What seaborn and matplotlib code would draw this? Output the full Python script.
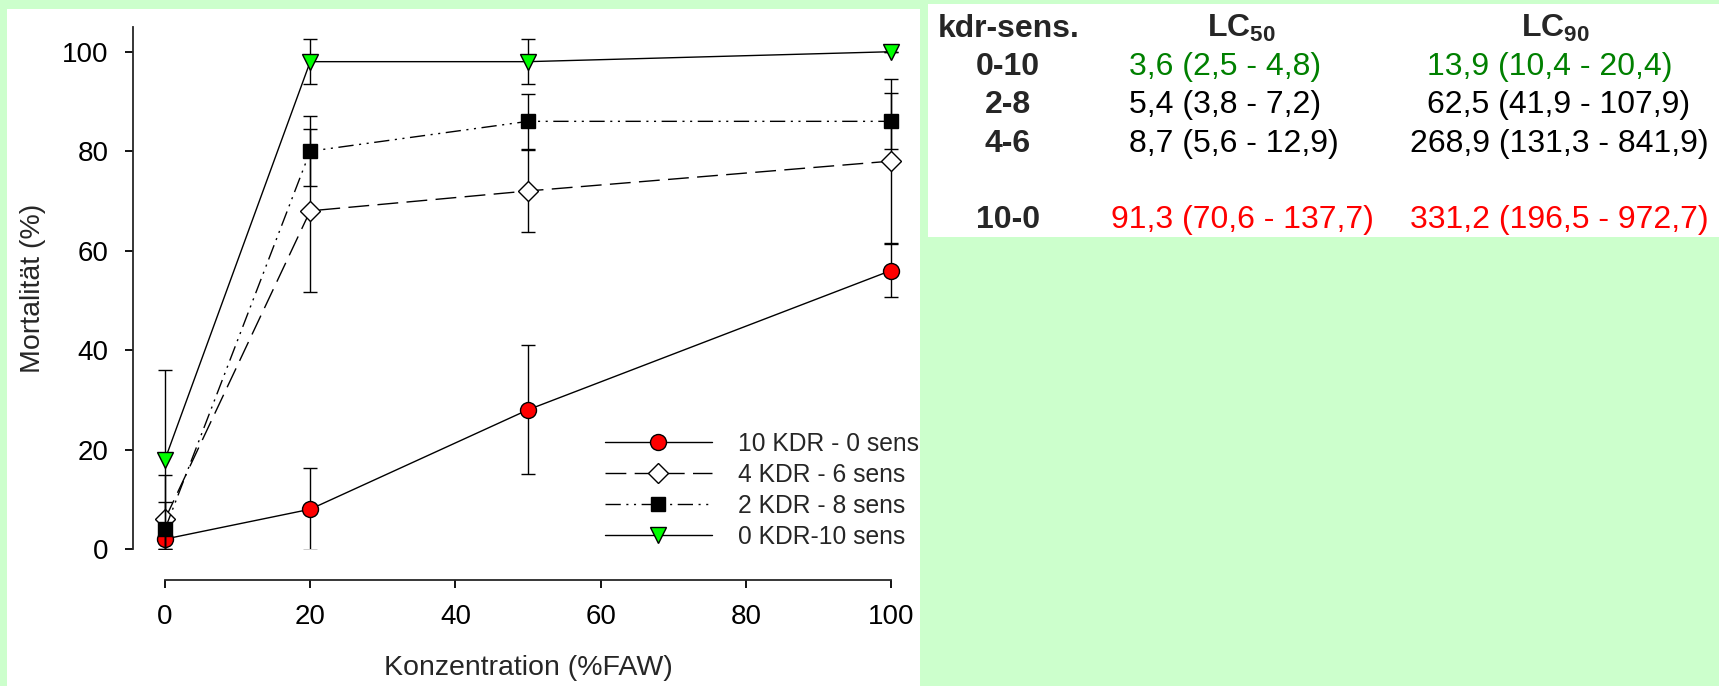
import numpy as np
import pandas as pd
import seaborn as sns
import matplotlib.pyplot as plt
from matplotlib.patches import Rectangle

# Daten
konz = [0, 20, 50, 100]

gruppen = ["10 KDR - 0 sens", "4 KDR - 6 sens", "2 KDR - 8 sens", "0 KDR-10 sens"]
mort_10_0 = [2, 8, 28, 56]
sd_10_0 = [2, 8.2, 13, 5.3]
mort_4_6 = [6, 68, 72, 78]
sd_4_6 = [8.9, 16.4, 8.3, 16.5]
mort_2_8 = [4, 80, 86, 86]
sd_2_8 = [5.5, 7.1, 5.5, 5.6]
mort_0_10 = [18, 98, 98, 100]
sd_0_10 = [17.9, 4.5, 4.5, 0]

# Tabelle LC-Werte
kdr_sens = ["0-10", "2-8", "4-6", "10-0"]
lc50 = ["3,6 (2,5 - 4,8)", "5,4 (3,8 - 7,2)", "8,7 (5,6 - 12,9)", "91,3 (70,6 - 137,7)"]
lc90 = ["13,9 (10,4 - 20,4)", "62,5 (41,9 - 107,9)", "268,9 (131,3 - 841,9)",
        "331,2 (196,5 - 972,7)"]
zeilen_farben = ["#008000", "black", "black", "#ff0000"]

df = pd.DataFrame({
    "Konzentration": konz * 4,
    "Mortalitaet": mort_10_0 + mort_4_6 + mort_2_8 + mort_0_10,
    "sd": sd_10_0 + sd_4_6 + sd_2_8 + sd_0_10,
    "Gruppe": np.repeat(gruppen, len(konz)),
})

sns.set_style("ticks")
plt.rcParams["font.family"] = ["Liberation Sans", "DejaVu Sans"]
plt.rcParams["mathtext.fontset"] = "custom"
plt.rcParams["mathtext.rm"] = "Liberation Sans"
plt.rcParams["mathtext.bf"] = "Liberation Sans:bold"

W, H = 1719, 686
fx = lambda px: px / W
fy = lambda py: 1 - py / H

fig = plt.figure(figsize=(W / 100, H / 100), dpi=100)
fig.patch.set_facecolor("#ccffcc")
# weiße Flächen hinter Diagramm und Tabelle
fig.add_artist(Rectangle((fx(7), 0), fx(920) - fx(7), fy(9), transform=fig.transFigure,
                         facecolor="white", edgecolor="none", zorder=0))
fig.add_artist(Rectangle((fx(928), fy(237)), 1 - fx(928), fy(4) - fy(237),
                         transform=fig.transFigure, facecolor="white", edgecolor="none",
                         zorder=0))

ax = fig.add_axes([fx(133), fy(580), fx(891) - fx(133), fy(27) - fy(580)])
ax.set_facecolor("none")

stile = [
    dict(marker="o", markersize=11.5, markerfacecolor="#ff0000", linestyle="-"),
    dict(marker="D", markersize=10, markerfacecolor="white", linestyle=(0, (15, 6))),
    dict(marker="s", markersize=10, markerfacecolor="black",
         linestyle=(0, (11, 4, 1.5, 4, 1.5, 4))),
    dict(marker="v", markersize=12, markerfacecolor="#00ff00", linestyle="-"),
]

clip = Rectangle((-10, 0), 130, 200, transform=ax.transData)
for i, (name, st) in enumerate(zip(gruppen, stile)):
    d = df[df["Gruppe"] == name]
    eb = ax.errorbar(d["Konzentration"], d["Mortalitaet"], yerr=d["sd"], fmt="none",
                     ecolor="black", elinewidth=1.0, capsize=4.8, capthick=1.0,
                     zorder=2.5 + i, label="_nolegend_")
    for art in eb.lines[1] + eb.lines[2]:
        art.set_clip_path(clip)
    sns.lineplot(data=d, x="Konzentration", y="Mortalitaet", ax=ax, errorbar=None,
                 color="black", lw=1.0, markeredgecolor="black", markeredgewidth=1.0,
                 zorder=3 + i, clip_on=False, label=name, **st)

ax.set_xlim(-4.41, 100)
ax.set_ylim(-6.23, 104.97)
ax.set_xticks([0, 20, 40, 60, 80, 100])
ax.set_yticks([0, 20, 40, 60, 80, 100])
ax.spines["top"].set_visible(False)
ax.spines["right"].set_visible(False)
ax.spines["left"].set_bounds(0, 104.97)
ax.spines["bottom"].set_bounds(0, 100)
for s in ("left", "bottom"):
    ax.spines[s].set_linewidth(1.3)
ax.tick_params(axis="both", direction="out", length=5.5, width=1.3, labelsize=20,
               color="black", labelcolor="black")
ax.tick_params(axis="y", pad=12)
ax.tick_params(axis="x", pad=11.5)

ax.set_xlabel("Konzentration (%FAW)", fontsize=20.5)
ax.set_ylabel("Mortalität (%)", fontsize=20.5)
ax.xaxis.set_label_coords(0.521, -0.136)
ax.yaxis.set_label_coords(-0.115, 0.527)

handles, labels = ax.get_legend_handles_labels()
ax.legend(handles, labels, loc="upper left", bbox_to_anchor=(fx(605), fy(432)),
          bbox_transform=fig.transFigure, frameon=False, fontsize=17.7, handlelength=4.35,
          handletextpad=1.05, labelspacing=0.28, borderpad=0, borderaxespad=0, numpoints=1)

# Tabelle
fs_tab = 23
ziffer = 0.556 * fs_tab * 100 / 72  # Breite einer Ziffer in Pixel
fig.text(fx(1009), fy(36.7), "kdr-sens.", fontsize=fs_tab, fontweight="bold",
         ha="center", va="baseline")
fig.text(fx(1207), fy(36.7), r"$\mathbf{LC}_{\mathbf{50}}$", fontsize=fs_tab,
         ha="left", va="baseline")
fig.text(fx(1521), fy(36.7), r"$\mathbf{LC}_{\mathbf{90}}$", fontsize=fs_tab,
         ha="left", va="baseline")

zeilen_y = [75, 113, 152, 228]
for lab, v50, v90, col, yb in zip(kdr_sens, lc50, lc90, zeilen_farben, zeilen_y):
    fig.text(fx(1008), fy(yb), lab, fontsize=fs_tab, fontweight="bold", ha="center",
             va="baseline")
    for v, komma_x in ((v50, 1147), (v90, 1463)):
        n = len(v.split(",")[0])
        fig.text(fx(komma_x - n * ziffer), fy(yb), v, fontsize=fs_tab, color=col,
                 ha="left", va="baseline")

fig.savefig("out.png", dpi=100, facecolor=fig.get_facecolor())
